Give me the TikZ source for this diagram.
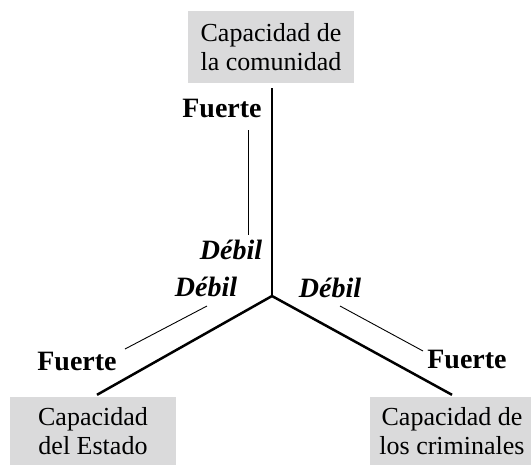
\documentclass[tikz,border=0pt]{standalone}
\usepackage{fontspec}
\setmainfont{Liberation Serif}
\definecolor{boxGray}{RGB}{218,218,219}

\begin{document}
\begin{tikzpicture}[%
    x=1pt, y=-1pt,
    every node/.style={
        font=\fontsize{26}{29}\selectfont,
    },
    capbox/.style={fill=boxGray, align=center, inner sep=0pt,
        minimum width=166pt, minimum height=72pt},
    strong/.style={font=\fontsize{28}{29}\selectfont\bfseries},
    weak/.style={font=\fontsize{28}{29}\selectfont\bfseries\itshape},
    axis/.style={line width=2.5pt},
    spanline/.style={line width=0.9pt},
]
\useasboundingbox (0,0) rectangle (531,464);

% place boxes
\node[capbox] (comunidad) at (271,47) {Capacidad de\\la comunidad};
\node[capbox, minimum height=68pt] (estado) at (93,431) {Capacidad\\del Estado};
\node[capbox, minimum width=164pt, minimum height=68pt] (criminales) at (452,431) {Capacidad de\\los criminales};

% draw the three axes
\coordinate (centro) at (272,296);
\draw[axis] (centro) -- ([yshift=-5pt]comunidad.south -| centro);
\draw[axis] (centro) -- ([shift={(4pt,2pt)}]estado.north);
\draw[axis] (centro) -- ([yshift=2pt]criminales.north);

% place labels
\node[strong] (fuerteC) at (222,109) {Fuerte};
\node[weak] (debilC) at (231,250) {Débil};
\node[weak] (debilE) at (206,287) {Débil};
\node[strong] (fuerteE) at (77,361) {Fuerte};
\node[weak] (debilR) at (330,288) {Débil};
\node[strong] (fuerteR) at (467,359) {Fuerte};

% draw thin span lines
\coordinate (c1) at (248,130);
\coordinate (c2) at (248,235);
\coordinate (e1) at (125,349);
\coordinate (e2) at (207,306);
\coordinate (r1) at (340,306);
\coordinate (r2) at (423,351);
\draw[spanline] (c1) -- (c2);
\draw[spanline] (e1) -- (e2);
\draw[spanline] (r1) -- (r2);

\end{tikzpicture}
\end{document}
